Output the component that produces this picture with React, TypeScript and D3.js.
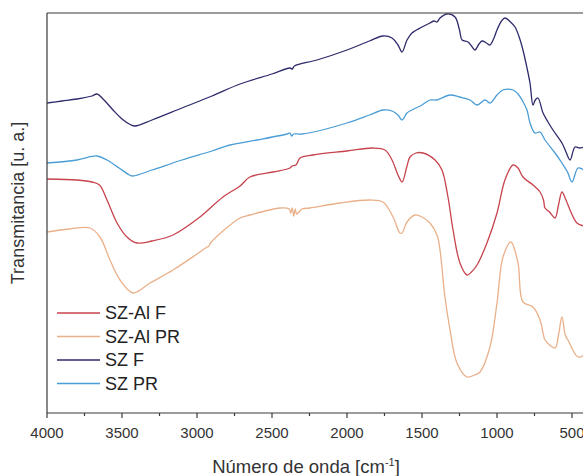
import React from "react";
import * as d3 from "d3";

type Pt = [number, number];

// wavenumber (cm-1), transmittance (arbitrary units)
const szF: Pt[] = [
  [4000, 310], [3900, 312], [3800, 314], [3700, 317], [3667, 319], [3620, 313], [3560, 303],
  [3500, 294], [3440, 288], [3413, 287], [3300, 293], [3100, 305], [2900, 317], [2713, 329],
  [2500, 339], [2380, 345], [2365, 344], [2350, 347], [2200, 353], [2000, 363], [1850, 372],
  [1760, 377], [1700, 375], [1660, 368], [1633, 361], [1600, 373], [1567, 380], [1500, 386],
  [1447, 390], [1420, 392], [1400, 391], [1380, 395], [1333, 399], [1280, 396], [1250, 383],
  [1233, 373], [1193, 371], [1170, 367], [1147, 363], [1120, 369], [1100, 372], [1070, 370],
  [1047, 368], [1020, 375], [1000, 383], [970, 392], [947, 395], [910, 391], [880, 386],
  [850, 375], [827, 363], [800, 345], [780, 330], [760, 308], [745, 313], [727, 315],
  [693, 300], [660, 291], [627, 283], [567, 270], [540, 261], [513, 253], [480, 266],
  [450, 265], [420, 266],
];

const szPR: Pt[] = [
  [4000, 250], [3800, 253], [3667, 257], [3600, 253], [3520, 245], [3450, 238], [3427, 237],
  [3300, 243], [3100, 253], [2900, 262], [2780, 268], [2600, 273], [2400, 279], [2380, 280],
  [2370, 277], [2355, 279], [2300, 279], [2000, 290], [1850, 298], [1760, 303], [1700, 302],
  [1660, 298], [1633, 293], [1600, 300], [1567, 303], [1500, 308], [1447, 313], [1400, 313],
  [1313, 318], [1250, 316], [1180, 313], [1133, 308], [1080, 313], [1047, 310], [1000, 318],
  [960, 323], [893, 323], [860, 319], [833, 313], [800, 303], [780, 290], [747, 280],
  [713, 281], [680, 273], [613, 260], [567, 250], [530, 241], [500, 231], [460, 245],
  [420, 243],
];

const szAlF: Pt[] = [
  [4000, 234], [3800, 233], [3700, 231], [3650, 228], [3600, 213], [3533, 190], [3467, 176],
  [3400, 170], [3300, 172], [3160, 178], [2980, 196], [2827, 216], [2713, 227], [2647, 236],
  [2493, 241], [2380, 245], [2367, 247], [2340, 248], [2313, 255], [2227, 258], [2000, 262],
  [1827, 265], [1747, 263], [1700, 253], [1660, 238], [1633, 231], [1600, 247], [1580, 256],
  [1540, 260], [1493, 260], [1413, 253], [1367, 243], [1327, 216], [1293, 183], [1247, 150],
  [1200, 138], [1170, 141], [1133, 148], [1067, 170], [1000, 200], [947, 233], [893, 248],
  [860, 245], [827, 236], [760, 228], [713, 221], [690, 213], [680, 205], [650, 201],
  [613, 195], [590, 208], [567, 221], [540, 213], [513, 203], [467, 190], [420, 187],
];

const szAlPR: Pt[] = [
  [4000, 181], [3850, 184], [3713, 185], [3647, 176], [3580, 153], [3513, 133], [3427, 120],
  [3313, 130], [3160, 143], [3000, 159], [2933, 166], [2920, 167], [2910, 170], [2713, 195],
  [2647, 198], [2447, 205], [2385, 204], [2375, 200], [2365, 205], [2355, 197], [2345, 204],
  [2335, 199], [2300, 204], [2247, 205], [2047, 210], [1847, 213], [1760, 211], [1693, 196],
  [1647, 180], [1633, 180], [1600, 191], [1547, 198], [1500, 196], [1447, 190], [1400, 178],
  [1380, 163], [1347, 116], [1313, 83], [1267, 50], [1200, 36], [1150, 38], [1113, 41],
  [1047, 66], [1000, 110], [960, 156], [907, 171], [860, 150], [827, 111], [760, 106],
  [713, 93], [690, 78], [680, 73], [613, 65], [590, 78], [567, 96], [545, 78], [527, 73],
  [460, 56], [420, 58],
];

const seriesNames = ["SZ-Al F", "SZ-Al PR", "SZ F", "SZ PR"];
const seriesData = [szAlF, szAlPR, szF, szPR];
const seriesColors = ["#c7434d", "#eab08a", "#2e2b6c", "#4a9dd6"];

const majorTicks = [4000, 3500, 3000, 2500, 2000, 1500, 1000, 500];
const minorTicks = [3750, 3250, 2750, 2250, 1750, 1250, 750];

export default function App() {
  const W = 583;
  const H = 476;
  const left = 47;
  const top = 13;
  const bottom = 413;

  const x = d3.scaleLinear().domain([4000, 400]).range([left, 587]);
  const y = d3.scaleLinear().domain([0, 400]).range([bottom, top]);

  const line = d3
    .line<Pt>()
    .x((d) => x(d[0]))
    .y((d) => y(d[1]))
    .curve(d3.curveCatmullRom.alpha(0.5));

  const font = "'Liberation Sans', Arial, sans-serif";
  const axisColor = "#3a3a3a";

  return (
    <svg
      width={W}
      height={H}
      style={{ position: "absolute", left: 0, top: 0, background: "#fff" }}
      fontFamily={font}
    >
      <defs>
        <clipPath id="plot">
          <rect x={left} y={top - 2} width={W - left} height={bottom - top + 2} />
        </clipPath>
      </defs>

      <g clipPath="url(#plot)">
        {seriesData.map((d, i) => (
          <path
            key={i}
            d={line(d) || ""}
            fill="none"
            stroke={seriesColors[i]}
            strokeWidth={1.3}
            strokeLinejoin="round"
          />
        ))}
      </g>

      {/* frame */}
      <line x1={left} x2={W} y1={top} y2={top} stroke={axisColor} strokeWidth={1.2} />
      <line x1={left} x2={left} y1={top} y2={bottom} stroke={axisColor} strokeWidth={1.2} />
      <line x1={left} x2={W} y1={bottom} y2={bottom} stroke={axisColor} strokeWidth={1.2} />

      {majorTicks.map((t) => (
        <g key={t}>
          <line x1={x(t)} x2={x(t)} y1={bottom} y2={bottom + 5} stroke={axisColor} strokeWidth={1.2} />
          <text x={x(t)} y={438} textAnchor="middle" fontSize={15} fill="#333">
            {t}
          </text>
        </g>
      ))}
      {minorTicks.map((t) => (
        <line key={t} x1={x(t)} x2={x(t)} y1={bottom} y2={bottom + 3} stroke={axisColor} strokeWidth={1.2} />
      ))}

      <text x={306} y={473} textAnchor="middle" fontSize={18.5} fill="#333">
        Número de onda [cm
        <tspan dy={-7} fontSize={11}>-1</tspan>
        <tspan dy={7}>]</tspan>
      </text>

      <text
        transform={`translate(24, 203) rotate(-90)`}
        textAnchor="middle"
        fontSize={18}
        fill="#333"
      >
        Transmitancia [u. a.]
      </text>

      {seriesNames.map((n, i) => {
        const yy = 313 + i * 23.5;
        return (
          <g key={n}>
            <line x1={57} x2={100} y1={yy} y2={yy} stroke={seriesColors[i]} strokeWidth={1.3} />
            <text x={105} y={yy + 6} fontSize={18} fill="#222">
              {n}
            </text>
          </g>
        );
      })}
    </svg>
  );
}
